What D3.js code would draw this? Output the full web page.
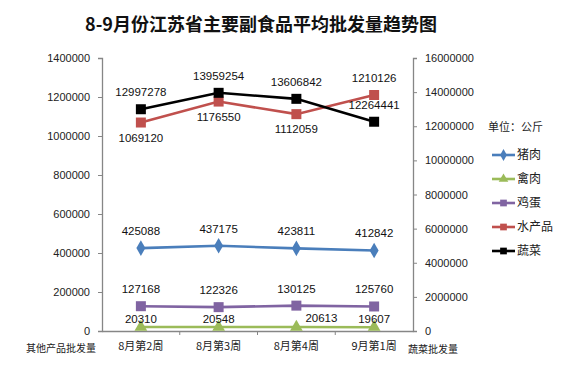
<!DOCTYPE html>
<html><head><meta charset="utf-8">
<script src="https://cdn.jsdelivr.net/npm/d3@7"></script>
<style>body{margin:0;background:#fff}svg{display:block}</style>
</head><body><svg id="c" width="567" height="366"></svg>
<script>
const categories = ["8月第2周","8月第3周","8月第4周","9月第1周"];
const pork    = [425088, 437175, 423811, 412842];
const poultry = [20310, 20548, 20613, 19607];
const eggs    = [127168, 122326, 130125, 125760];
const aquatic = [1069120, 1176550, 1112059, 1210126];
const veg     = [12997278, 13959254, 13606842, 12264441];
const leftTicks  = [0,200000,400000,600000,800000,1000000,1200000,1400000];
const rightTicks = [0,2000000,4000000,6000000,8000000,10000000,12000000,14000000,16000000];

const series = [
  {name:"猪肉", values:pork, color:"#4A7EBB", marker:"diamond", axis:"L", pos:["above","above","above","above"]},
  {name:"禽肉", values:poultry, color:"#9BBB59", marker:"triangle", axis:"L", pos:["low","low","right","low"]},
  {name:"鸡蛋", values:eggs, color:"#8064A2", marker:"square", axis:"L", pos:["above","above","above","above"]},
  {name:"水产品", values:aquatic, color:"#C0504D", marker:"square", axis:"L", pos:["below","below","below","above"]},
  {name:"蔬菜", values:veg, color:"#000000", marker:"square", axis:"R", pos:["above","above","above","above"]}
];

const svg = d3.select("#c");
const L = 102, R = 413, T = 58, B = 331;
const x = d3.scaleBand().domain(categories).range([L, R]);
const yL = d3.scaleLinear().domain([0,1400000]).range([B, T]);
const yR = d3.scaleLinear().domain([0,16000000]).range([B, T]);
const axisColor = "#868686";
const font = "'Liberation Sans', Arial, sans-serif";
const cjk = "'Noto Sans CJK SC', sans-serif";

svg.append("text").attr("x", 261).attr("y", 31).attr("text-anchor","middle")
  .attr("font-family", cjk).attr("font-weight","bold").attr("font-size", 18).attr("fill","#111")
  .text("8-9月份江苏省主要副食品平均批发量趋势图");

const gL = svg.append("g").attr("transform", `translate(${L},0)`)
  .call(d3.axisLeft(yL).tickValues(leftTicks).tickFormat(d3.format("d")).tickSize(4).tickPadding(8));
const gR = svg.append("g").attr("transform", `translate(${R},0)`)
  .call(d3.axisRight(yR).tickValues(rightTicks).tickFormat(d3.format("d")).tickSize(4).tickPadding(8));
const gX = svg.append("g").attr("transform", `translate(0,${B})`)
  .call(d3.axisBottom(x).tickSize(0).tickPadding(11));
gX.selectAll(".bt").data(categories.slice(1)).enter().append("line")
  .attr("x1", d => x(d)).attr("x2", d => x(d)).attr("y1", 0).attr("y2", 4).attr("stroke", axisColor);

[gL, gR, gX].forEach(g => {
  g.selectAll("path.domain").attr("stroke", axisColor).attr("stroke-width", 1.3);
  g.selectAll(".tick line").attr("stroke", axisColor);
  g.selectAll("text").attr("font-family", font).attr("font-size", 11).attr("fill", "#222");
});
gX.selectAll("text").attr("font-family", cjk).attr("font-size", 11);

svg.append("text").attr("x", 26).attr("y", 352).attr("font-family", cjk).attr("font-size", 10).attr("fill","#222").text("其他产品批发量");
svg.append("text").attr("x", 408).attr("y", 353).attr("font-family", cjk).attr("font-size", 10).attr("fill","#222").text("蔬菜批发量");

function markerPath(type, size) {
  const sym = type === "diamond" ? d3.symbolDiamond : type === "triangle" ? d3.symbolTriangle : d3.symbolSquare;
  return d3.symbol().type(sym).size(size)();
}
const msize = {square: 100, diamond: 70, triangle: 70};
const line = (ys) => d3.line().x((d,i) => x(categories[i]) + x.bandwidth()/2).y(d => ys(d));

series.forEach(s => {
  const ys = s.axis === "L" ? yL : yR;
  svg.append("path").datum(s.values).attr("d", line(ys)).attr("fill","none")
    .attr("stroke", s.color).attr("stroke-width", 2.6);
  svg.selectAll(null).data(s.values).enter().append("path")
    .attr("transform", (d,i) => `translate(${x(categories[i]) + x.bandwidth()/2},${ys(d)})`)
    .attr("d", markerPath(s.marker, msize[s.marker])).attr("fill", s.color);
});
const dy = {above:-13, below:19, low:-4, right:-5};
series.forEach(s => {
  const ys = s.axis === "L" ? yL : yR;
  svg.selectAll(null).data(s.values).enter().append("text")
    .attr("x", (d,i) => x(categories[i]) + x.bandwidth()/2 + (s.pos[i]==="right" ? 25 : 0))
    .attr("y", (d,i) => ys(d) + dy[s.pos[i]])
    .attr("text-anchor","middle").attr("font-family", font).attr("font-size", 11.5).attr("fill","#111")
    .text(d => d);
});

svg.append("text").attr("x", 488).attr("y", 131).attr("font-family", cjk).attr("font-size", 11).attr("fill","#222").text("单位：公斤");
const lg = svg.selectAll(".lg").data(series).enter().append("g")
  .attr("transform", (d,i) => `translate(0,${155 + i*24})`);
lg.append("line").attr("x1", 492).attr("x2", 515).attr("stroke", d => d.color).attr("stroke-width", 2.6);
lg.append("path").attr("transform","translate(503.5,0)").attr("d", d => markerPath(d.marker, d.marker==="square"?45:40)).attr("fill", d => d.color);
lg.append("text").attr("x", 517).attr("y", 4).attr("font-family", cjk).attr("font-size", 12).attr("fill","#222").text(d => d.name);
</script></body></html>
